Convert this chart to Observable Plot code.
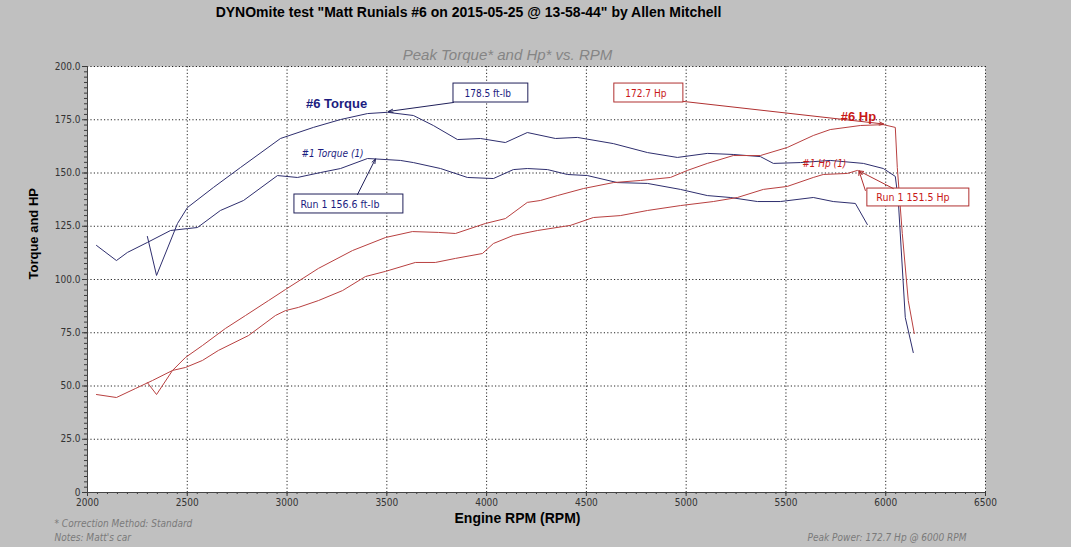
<!DOCTYPE html>
<html>
<head>
<meta charset="utf-8">
<script src="https://cdn.jsdelivr.net/npm/d3@7"></script>
<script src="https://cdn.jsdelivr.net/npm/@observablehq/plot@0.6"></script>
<style>
  html, body { margin: 0; padding: 0; background: #c0c0c0; }
  #chart { width: 1071px; height: 547px; background: #c0c0c0; }
  svg { font-family: "Liberation Sans", Arial, sans-serif; }
</style>
</head>
<body>
<div id="chart"></div>
<script>
// ---- Data ----
// #1 (Run 1) Torque
const run1TorqueRpm = [2045,2145,2200,2300,2416,2501,2551,2666,2782,2952,3052,3167,3268,3403,3443,3568,3633,3769,3904,4034,4134,4204,4305,4405,4505,4655,4806,4971,5106,5221,5357,5472,5637,5737,5848,5908];
const run1Torque    = [116.0,108.9,112.7,117.4,123.0,123.9,124.4,132.4,137.1,148.8,147.9,150.2,152.1,156.8,156.6,155.9,154.9,152.1,147.9,147.4,151.6,152.1,151.6,149.3,148.8,145.5,145.1,142.3,139.4,138.5,136.6,136.6,138.5,136.6,135.7,125.8];
// #1 (Run 1) Hp
const run1HpRpm = [2045,2145,2240,2326,2426,2491,2576,2656,2807,2942,2992,3057,3157,3278,3393,3493,3643,3743,3844,3979,4034,4134,4255,4420,4535,4670,4806,4971,5136,5257,5387,5507,5637,5687,5808,5858];
const run1Hp    = [46.0,44.6,48.8,52.6,57.3,58.7,62.0,66.7,73.7,83.1,85.4,86.9,90.1,94.8,101.4,103.8,108.0,108.0,109.9,112.2,116.9,120.7,123.0,125.4,129.1,130.0,132.4,134.7,136.6,138.5,142.3,143.7,147.9,149.3,149.8,151.2];
// #6 Torque
const run6TorqueRpm = [2300,2346,2451,2501,2631,2767,2967,3132,3268,3403,3503,3633,3733,3854,3969,4094,4204,4345,4455,4635,4806,4956,5106,5236,5372,5437,5572,5722,5888,5988,6048,6063,6098,6138];
const run6Torque    = [120.2,101.9,126.3,133.8,143.2,152.6,166.2,171.4,175.1,177.9,178.5,177.0,172.3,165.7,166.2,164.3,169.0,166.2,166.7,163.8,159.6,157.3,159.2,158.7,157.7,154.5,154.9,155.9,154.5,152.1,148.4,137.1,82.2,65.7];
// #6 Hp
const run6HpRpm = [2300,2346,2426,2491,2576,2691,2792,2907,2992,3157,3328,3493,3628,3759,3844,3994,4094,4204,4270,4355,4485,4635,4771,4921,5006,5106,5236,5372,5507,5637,5722,5873,5988,6048,6058,6083,6113,6143];
const run6Hp    = [51.6,46.0,57.3,63.4,69.0,77.0,83.1,90.1,95.3,105.2,113.6,119.7,122.5,122.1,121.6,126.3,128.6,136.2,137.1,139.4,142.7,145.5,146.5,147.9,151.2,154.5,158.2,158.2,162.0,167.6,170.4,172.3,172.7,171.4,152.6,121.6,90.1,74.6];

// Axis ticks
const rpmTicks = d3.range(2000, 6501, 500);
const rpmMinorTicks = d3.range(2000, 6501, 50);
const valueTicks = d3.range(0, 201, 25);
const valueMinorTicks = d3.range(0, 200.01, 2.5);

// Texts
const titleText = "DYNOmite test \"Matt Runials #6 on 2015-05-25 @ 13-58-44\" by Allen Mitchell";
const subtitleText = "Peak Torque* and Hp* vs. RPM";
const yLabelText = "Torque and HP";
const xLabelText = "Engine RPM (RPM)";
const footLeft = ["* Correction Method: Standard", "Notes: Matt's car"];
const footRight = "Peak Power: 172.7 Hp @ 6000 RPM";

// Annotation boxes (rpm / value units)
const boxLabels = ["178.5 ft-lb", "Run 1 156.6 ft-lb", "172.7 Hp", "Run 1 151.5 Hp"];
const boxSeries = ["torque", "torque", "hp", "hp"];
const boxRpm1 = [3834, 3037, 4640, 5908];
const boxRpm2 = [4209, 3583, 4986, 6419];
const boxVal1 = [183.1, 131.0, 183.1, 134.3];
const boxVal2 = [192.0, 139.9, 192.0, 142.7];
const boxTextRpm = [3889, 3067, 4695, 5953];
const boxTextVal = [187.4, 135.3, 187.4, 138.3];
const boxItalic = [false, true, false, true];

// Annotation arrows
const arrowSeries = ["torque", "torque", "hp", "hp", "hp"];
const arrowRpm1 = [3834, 3353, 4986, 6038, 5898];
const arrowVal1 = [183.1, 139.9, 183.6, 142.7, 141.8];
const arrowRpm2 = [3508, 3443, 5990, 5866, 5866];
const arrowVal2 = [178.9, 156.6, 173.0, 151.0, 151.0];

// Series labels
const seriesLabels = ["#6 Torque", "#1 Torque (1)", "#6 Hp", "#1 Hp (1)"];
const seriesLabelRpm = [3248, 3228, 5863, 5692];
const seriesLabelVal = [182.6, 159.2, 176.5, 154.5];
const seriesLabelKind = ["torque", "torque", "hp", "hp"];
const seriesLabelBold = [true, false, true, false];

// ---- Build tables ----
const toRows = (rpms, vals) => rpms.map((r, i) => ({rpm: r, value: vals[i]}));
const r1t = toRows(run1TorqueRpm, run1Torque);
const r1h = toRows(run1HpRpm, run1Hp);
const r6t = toRows(run6TorqueRpm, run6Torque);
const r6h = toRows(run6HpRpm, run6Hp);

const boxes = boxLabels.map((t, i) => ({label: t, kind: boxSeries[i], x1: boxRpm1[i], x2: boxRpm2[i], y1: boxVal1[i], y2: boxVal2[i], tx: boxTextRpm[i], ty: boxTextVal[i], italic: boxItalic[i]}));
const arrows = arrowSeries.map((k, i) => ({kind: k, x1: arrowRpm1[i], y1: arrowVal1[i], x2: arrowRpm2[i], y2: arrowVal2[i]}));
const sLabels = seriesLabels.map((t, i) => ({label: t, x: seriesLabelRpm[i], y: seriesLabelVal[i], kind: seriesLabelKind[i], bold: seriesLabelBold[i]}));

const navyLine = "#2e2e6e";
const redLine = "#b84040";
const navyText = "#1c1c80";
const redText = "#c81818";
const narrow = "'Liberation Sans Narrow', 'Arial Narrow', 'DejaVu Sans Condensed', sans-serif";
const sans = "'Liberation Sans', Arial, sans-serif";
const tickGray = "#3a3a3a";

const chart = Plot.plot({
  width: 1071,
  height: 547,
  marginLeft: 87,
  marginRight: 86,
  marginTop: 66,
  marginBottom: 55,
  style: {background: "transparent", overflow: "visible"},
  x: {domain: [2000, 6500]},
  y: {domain: [0, 200]},
  marks: [
    Plot.frame({fill: "white", stroke: null}),
    Plot.gridX({ticks: rpmTicks, stroke: "#000", strokeOpacity: 0.85, strokeDasharray: "1.2,2.2"}),
    Plot.gridY({ticks: valueTicks, stroke: "#000", strokeOpacity: 0.85, strokeDasharray: "1.2,2.2"}),
    // minor ticks
    Plot.axisY({ticks: valueMinorTicks, tickSize: 3, tickFormat: () => "", label: null, stroke: tickGray}),
    Plot.axisX({ticks: rpmMinorTicks, tickSize: 2, tickFormat: () => "", label: null, stroke: tickGray}),
    // major ticks and labels
    Plot.axisY({ticks: valueTicks, tickSize: 5, tickPadding: 2, label: null, stroke: tickGray,
      tickFormat: d => d === 0 ? "0" : d.toFixed(1), fontSize: 10, fontFamily: narrow, fill: "#333"}),
    Plot.axisX({ticks: rpmTicks, tickSize: 4, tickPadding: 2, label: null, stroke: tickGray,
      tickFormat: d => String(d), fontSize: 10, fontFamily: narrow, fill: "#333"}),
    Plot.ruleX([2000], {stroke: "#444"}),
    Plot.ruleY([0], {stroke: "#444"}),

    // curves
    Plot.line(r6t, {x: "rpm", y: "value", stroke: navyLine, strokeWidth: 1}),
    Plot.line(r1t, {x: "rpm", y: "value", stroke: navyLine, strokeWidth: 1}),
    Plot.line(r6h, {x: "rpm", y: "value", stroke: redLine, strokeWidth: 1}),
    Plot.line(r1h, {x: "rpm", y: "value", stroke: redLine, strokeWidth: 1}),

    // annotation boxes
    Plot.rect(boxes, {x1: "x1", x2: "x2", y1: "y1", y2: "y2", fill: "white",
      stroke: d => d.kind === "torque" ? "#20205a" : "#b03030", strokeWidth: 1}),
    Plot.text(boxes, {x: "tx", y: "ty", text: "label", textAnchor: "start",
      fill: d => d.kind === "torque" ? navyText : redText,
      fontSize: d => d.italic ? 10.5 : 10,
      fontStyle: d => d.italic ? "italic" : "normal",
      fontFamily: narrow}),
    Plot.arrow(arrows, {x1: "x1", y1: "y1", x2: "x2", y2: "y2",
      stroke: d => d.kind === "torque" ? "#20205a" : "#b03030", strokeWidth: 1, headLength: 7, headAngle: 40}),

    // series labels
    Plot.text(sLabels.filter(d => d.bold), {x: "x", y: "y", text: "label",
      fill: d => d.kind === "torque" ? navyText : redText, fontSize: 13, fontWeight: "bold",
      fontFamily: sans}),
    Plot.text(sLabels.filter(d => !d.bold), {x: "x", y: "y", text: "label",
      fill: d => d.kind === "torque" ? navyText : redText, fontSize: 10, fontStyle: "italic",
      fontFamily: narrow}),

    // titles and footers
    Plot.text([titleText], {frameAnchor: "top", lineAnchor: "middle", dx: -68, dy: -54, text: d => d, fontSize: 14,
      fontWeight: "bold", fill: "#000", fontFamily: sans}),
    Plot.text([subtitleText], {frameAnchor: "top", lineAnchor: "middle", dx: -29, dy: -11, text: d => d, fontSize: 15,
      fontStyle: "italic", fill: "#858585", fontFamily: sans}),
    Plot.text([yLabelText], {frameAnchor: "left", lineAnchor: "middle", dx: -54, rotate: -90, text: d => d, fontSize: 13,
      fontWeight: "bold", fill: "#000", fontFamily: sans}),
    Plot.text([xLabelText], {frameAnchor: "bottom", lineAnchor: "middle", dx: -19, dy: 26, text: d => d, fontSize: 14,
      fontWeight: "bold", fill: "#000", fontFamily: sans}),
    Plot.text([footLeft[0]], {frameAnchor: "bottom-left", lineAnchor: "middle", dx: -33, dy: 31, text: d => d, textAnchor: "start",
      fontSize: 10, fontStyle: "italic", fill: "#7a7a7a", fontFamily: narrow}),
    Plot.text([footLeft[1]], {frameAnchor: "bottom-left", lineAnchor: "middle", dx: -33, dy: 45, text: d => d, textAnchor: "start",
      fontSize: 10, fontStyle: "italic", fill: "#7a7a7a", fontFamily: narrow}),
    Plot.text([footRight], {frameAnchor: "bottom-right", lineAnchor: "middle", dx: -19, dy: 45, text: d => d, textAnchor: "end",
      fontSize: 10, fontStyle: "italic", fill: "#7a7a7a", fontFamily: narrow})
  ]
});

document.getElementById("chart").appendChild(chart);
</script>
</body>
</html>
